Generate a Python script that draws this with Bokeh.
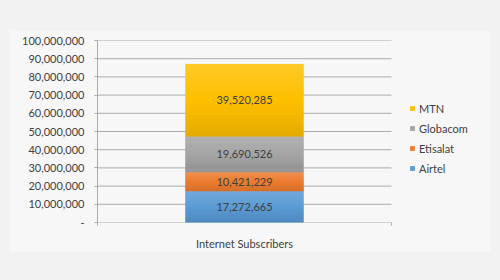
from bokeh.plotting import figure
from bokeh.layouts import column, row
from bokeh.models import (ColumnDataSource, Legend, LegendItem, FixedTicker,
                          NumeralTickFormatter, Range1d, Spacer)
from bokeh.embed import file_html
from bokeh.resources import INLINE
from bokeh.core.properties import value

categories = ["Internet Subscribers"]
operators = ["Airtel", "Etisalat", "Globacom", "MTN"]
subscribers = [17272665, 10421229, 19690526, 39520285]
colors = ["#5b9bd5", "#ed7d31", "#a5a5a5", "#ffc000"]
y_ticks = [0, 10000000, 20000000, 30000000, 40000000, 50000000,
           60000000, 70000000, 80000000, 90000000, 100000000]

FONT = "Lato"
TXT = "#404040"
PANEL = "#f7f7f7"
OUTER = "#f2f2f2"
GRID = "#ababab"
N_SHADE = 20  # slices used to imitate the vertical gradient of each segment

# category slot spans x in [0, 1]; extra room on the right holds the legend
cat_pos = [0.5]


def hex_rgb(h):
    h = h.lstrip("#")
    return [int(h[i:i + 2], 16) for i in (0, 2, 4)]


def mix(c, target, t):
    return "#%02x%02x%02x" % tuple(int(round(a + (b - a) * t)) for a, b in zip(c, target))


fig = figure(x_range=Range1d(0, 1.3027), y_range=Range1d(0, 100000000),
             width=480, height=222, output_backend="svg", toolbar_location=None,
             min_border_left=87, min_border_right=10, min_border_top=10,
             min_border_bottom=28)
fig.background_fill_color = PANEL
fig.border_fill_color = PANEL
fig.outline_line_color = None
fig.grid.grid_line_color = None

# gridlines across the category slot only
fig.segment(x0=0, x1=1, y0=y_ticks, y1=y_ticks, line_color=GRID, line_width=1)

src = ColumnDataSource(data=dict(x=cat_pos,
                                 **{op: [v] for op, v in zip(operators, subscribers)}))
renderers = fig.vbar_stack(operators, x="x", width=0.4, source=src,
                           fill_color=colors, line_color=None)

# gradient shading over each stacked segment (lighter top, darker bottom)
sx, sb, st, sc = [], [], [], []
base = 0
for v, col in zip(subscribers, colors):
    rgb = hex_rgb(col)
    for k in range(N_SHADE):
        f = (k + 0.5) / N_SHADE  # 0 bottom -> 1 top
        sx.append(cat_pos[0])
        sb.append(base + v * k / N_SHADE)
        st.append(base + v * (k + 1) / N_SHADE)
        if f >= 0.5:
            sc.append(mix(rgb, [255, 255, 255], (f - 0.5) * 0.3))
        else:
            sc.append(mix(rgb, [0, 0, 0], (0.5 - f) * 0.22))
    base += v
fig.vbar(x=sx, bottom=sb, top=st, width=0.4, fill_color=sc, line_color=sc,
         line_width=0.5)

# segment labels
mids, bottom = [], 0
for v in subscribers:
    mids.append(bottom + v / 2)
    bottom += v
lsrc = ColumnDataSource(data=dict(x=cat_pos * len(operators), y=mids,
                                  text=["{:,}".format(v) for v in subscribers]))
fig.text(x="x", y="y", text="text", source=lsrc, text_align="center",
         text_baseline="middle", text_font=value(FONT), text_font_size="11px",
         text_color=TXT)

# y axis
yt = FixedTicker(ticks=y_ticks)
fig.yaxis.ticker = yt
fig.yaxis.formatter = NumeralTickFormatter(format="0,0")
fig.yaxis.major_label_overrides = {0: "-"}
fig.yaxis.minor_tick_line_color = None
fig.yaxis.major_tick_in = 0
fig.yaxis.major_tick_out = 3
fig.yaxis.major_label_standoff = 10
fig.yaxis.axis_line_color = GRID
fig.yaxis.major_tick_line_color = GRID

# x axis: category label at slot centre, small ticks at slot edges
fig.xaxis.ticker = FixedTicker(ticks=cat_pos, minor_ticks=[0, 1])
fig.xaxis.major_label_overrides = {0.5: categories[0]}
fig.xaxis.axis_line_color = None
fig.xaxis.major_tick_line_color = None
fig.xaxis.minor_tick_line_color = GRID
fig.xaxis.minor_tick_in = 0
fig.xaxis.minor_tick_out = 3
fig.xaxis.major_label_standoff = 8
for ax in (fig.xaxis, fig.yaxis):
    ax.major_label_text_font = FONT
    ax.major_label_text_font_size = "11px"
    ax.major_label_text_color = TXT

items = [LegendItem(label=op, renderers=[r])
         for op, r in reversed(list(zip(operators, renderers)))]
legend = Legend(items=items, location=(312, 44), glyph_width=6, glyph_height=6,
                label_standoff=4, label_height=20, spacing=0, padding=0, margin=0,
                border_line_color=None, background_fill_alpha=0,
                label_text_font=FONT, label_text_font_size="11px",
                label_text_color=TXT)
fig.add_layout(legend)

p = column(Spacer(width=490, height=30),
           row(Spacer(width=10, height=222), fig))

html = file_html(p, INLINE)
html = html.replace("</head>",
                    "<style>html, body { background-color: %s; }</style></head>" % OUTER, 1)
open("out.html", "w").write(html)
